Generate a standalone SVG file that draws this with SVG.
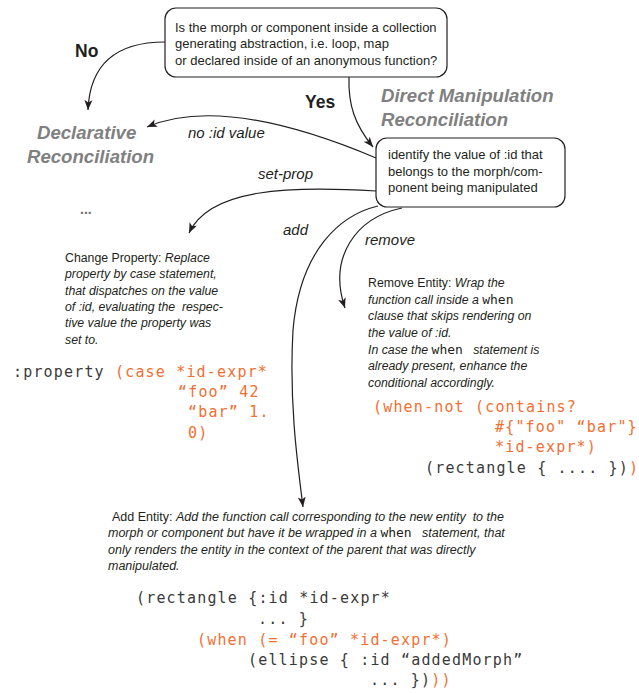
<svg xmlns="http://www.w3.org/2000/svg" width="639" height="693" viewBox="0 0 639 693" xml:space="preserve">
<defs>
<style>
text{white-space:pre}
.box{fill:#fff;stroke:#231f20;stroke-width:1.2}
.q{font-family:"Liberation Sans",Arial,sans-serif;font-size:13px;fill:#231f20}
.desc{font-family:"Liberation Sans",Arial,sans-serif;font-size:12.3px;fill:#231f20}
.it{font-style:italic}
.hd{font-family:"Liberation Sans",Arial,sans-serif;font-size:18.6px;font-weight:bold;font-style:italic;fill:#808080}
.yn{font-family:"Liberation Sans",Arial,sans-serif;font-size:17.5px;font-weight:bold;fill:#231f20}
.lbl{font-family:"Liberation Sans",Arial,sans-serif;font-size:15px;font-style:italic;fill:#231f20}
.code{font-family:"DejaVu Sans Mono",monospace;font-size:15px;letter-spacing:1.17px;fill:#3a3a3a}
.or{fill:#f26f33}
.kw{font-family:"DejaVu Sans Mono",monospace;font-size:13px;font-style:normal}
.edge{fill:none;stroke:#231f20;stroke-width:1.2;marker-end:url(#ah)}
</style>
<marker id="ah" viewBox="0 0 10 10" refX="10" refY="5" markerWidth="10" markerHeight="10" markerUnits="userSpaceOnUse" orient="auto"><path d="M0,1 L10,5 L0,9 L2.5,5 z" fill="#231f20"/></marker>
</defs>
<rect width="639" height="693" fill="#fff"/>

<!-- connectors -->
<g id="connectors">
<path class="edge" d="M165,42 C120,42 90,60 88,110"/>
<path class="edge" d="M349,77 C348,105 355,125 373,147"/>
<path class="edge" d="M376,158 C300,126 210,100 147,127"/>
<path class="edge" d="M376,191 C290,186 210,188 189,233"/>
<path class="edge" d="M378,206 C340,215 300,250 293,330 C289,400 297,460 303,507"/>
<path class="edge" d="M402,208 C355,218 328,258 345,308"/>
</g>

<!-- edge labels -->
<g id="labels">
<text class="yn" x="75" y="57">No</text>
<text class="yn" x="305" y="108">Yes</text>
<text class="lbl" x="188" y="138">no :id value</text>
<text class="lbl" x="258" y="179">set-prop</text>
<text class="lbl" x="283" y="235">add</text>
<text class="lbl" x="365" y="245">remove</text>
</g>

<!-- question -->
<g id="question">
<rect class="box" x="165" y="8" width="282" height="69" rx="11"/>
<text class="q" x="175" y="31.5">Is the morph or component inside a collection</text>
<text class="q" x="175" y="48">generating abstraction, i.e. loop, map</text>
<text class="q" x="175" y="64.5">or declared inside of an anonymous function?</text>
</g>

<!-- declarative branch -->
<g id="declarative">
<text class="hd" x="37" y="139">Declarative</text>
<text class="hd" x="27" y="163">Reconciliation</text>
<text x="80" y="214" style="font-family:'Liberation Sans',sans-serif;font-size:14px;font-weight:bold;fill:#6d6e71">...</text>
</g>

<!-- direct manipulation branch -->
<g id="direct">
<text class="hd" x="381" y="102">Direct Manipulation</text>
<text class="hd" x="381" y="126">Reconciliation</text>
</g>

<g id="identify">
<rect class="box" x="376" y="138" width="189" height="69" rx="11"/>
<text class="q" x="388" y="159">identify the value of :id that</text>
<text class="q" x="388" y="176">belongs to the morph/com-</text>
<text class="q" x="388" y="192">ponent being manipulated</text>
</g>

<!-- set-prop outcome -->
<g id="change-property">
<text class="desc" x="65" y="262">Change Property: <tspan class="it">Replace</tspan></text>
<text class="desc it" x="65" y="278.3">property by case statement,</text>
<text class="desc it" x="65" y="294.6">that dispatches on the value</text>
<text class="desc it" x="65" y="311">of :id, evaluating the  respec-</text>
<text class="desc it" x="65" y="327.3">tive value the property was</text>
<text class="desc it" x="65" y="343.6">set to.</text>
<text class="code" x="13" y="377">:property <tspan class="or">(case *id-expr*</tspan></text>
<text class="code or" x="178" y="396.5">“foo” 42</text>
<text class="code or" x="188" y="417">“bar” 1.</text>
<text class="code or" x="188" y="437.5">0)</text>
</g>

<!-- remove outcome -->
<g id="remove-entity">
<text class="desc" x="368" y="287">Remove Entity: <tspan class="it">Wrap the</tspan></text>
<text class="desc it" x="368" y="303.7">function call inside a <tspan class="kw">when</tspan></text>
<text class="desc it" x="368" y="320.3">clause that skips rendering on</text>
<text class="desc it" x="368" y="337">the value of :id.</text>
<text class="desc it" x="368" y="353.7">In case the <tspan class="kw">when</tspan>   statement is</text>
<text class="desc it" x="368" y="370.3">already present, enhance the</text>
<text class="desc it" x="368" y="387">conditional accordingly.</text>
<text class="code or" x="373" y="412">(when-not (contains?</text>
<text class="code or" x="495" y="432">#{"foo" “bar"}</text>
<text class="code or" x="495" y="452">*id-expr*)</text>
<text class="code" x="425" y="473">(rectangle { .... })<tspan class="or">)</tspan></text>
</g>

<!-- add outcome -->
<g id="add-entity">
<text class="desc" x="112" y="521" style="font-size:12.5px">Add Entity: <tspan class="it">Add the function call corresponding to the new entity  to the</tspan></text>
<text class="desc it" x="108" y="537.3" style="font-size:12.5px">morph or component but have it be wrapped in a <tspan class="kw">when</tspan>   statement, that</text>
<text class="desc it" x="108" y="553.6" style="font-size:12.5px">only renders the entity in the context of the parent that was directly</text>
<text class="desc it" x="108" y="570" style="font-size:12.5px">manipulated.</text>
<text class="code" x="136" y="603">(rectangle {:id *id-expr*</text>
<text class="code" x="258" y="624">... }</text>
<text class="code or" x="197" y="645">(when (= “foo” *id-expr*)</text>
<text class="code" x="248" y="665">(ellipse { :id “addedMorph”</text>
<text class="code" x="370" y="685">... })<tspan class="or">))</tspan></text>
</g>
</svg>
